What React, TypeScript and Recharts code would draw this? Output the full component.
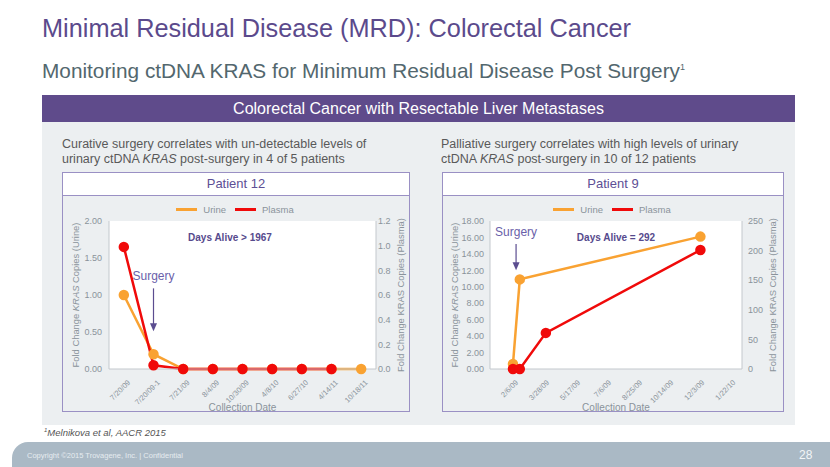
import React from 'react';
import {
  LineChart,
  Line,
  XAxis,
  YAxis,
  CartesianGrid,
  Legend,
  ReferenceLine,
} from 'recharts';

const URINE = '#F9A232';
const PLASMA = '#F00A0A';
const PURPLE = '#5B4D90';
const AXIS_TEXT = '#8A939B';
const AXIS_LINE = '#C3C8CD';
const PANEL = '#ECEFF1';
const FONT = '"Liberation Sans", Arial, sans-serif';

// Patient 12: categorical collection dates
const p12Dates = ['7/20/09', '7/20/09-1', '7/21/09', '8/4/09', '10/30/09', '4/8/10', '6/27/10', '4/14/11', '10/18/11'];
const p12Urine = [1.0, 0.2, 0, 0, 0, 0, 0, 0, 0];
const p12Plasma = [0.99, 0.03, 0, 0, 0, 0, 0, 0, null];
const p12LeftTicks = [0, 0.5, 1, 1.5, 2];
const p12RightTicks = [0, 0.2, 0.4, 0.6, 0.8, 1.0, 1.2];

// Patient 9: date axis
const p9Dates = ['2/8/09', '2/19/09', '4/2/09', '12/7/09'];
const p9Urine = [0.6, 10.9, null, 16.1];
const p9Plasma = [0, 0, 61, 201];
const p9TickDates = ['2/6/09', '3/28/09', '5/17/09', '7/6/09', '8/25/09', '10/14/09', '12/3/09', '1/22/10'];
const p9Domain = ['1/2/09', '2/12/10'];
const p9LeftTicks = [0, 2, 4, 6, 8, 10, 12, 14, 16, 18];
const p9RightTicks = [0, 50, 100, 150, 200, 250];

const toTs = (s: string) => {
  const [m, d, y] = s.split('/').map(Number);
  return Date.UTC(2000 + y, m - 1, d);
};
const fmtTs = (t: number) => {
  const d = new Date(t);
  const yy = String(d.getUTCFullYear() % 100).padStart(2, '0');
  return `${d.getUTCMonth() + 1}/${d.getUTCDate()}/${yy}`;
};

const p12Data = p12Dates.map((date, i) => ({ date, urine: p12Urine[i], plasma: p12Plasma[i] }));
const p9Data = p9Dates.map((date, i) => ({ t: toTs(date), urine: p9Urine[i], plasma: p9Plasma[i] }));

const tickStyle = { fill: AXIS_TEXT, fontSize: 9, fontFamily: FONT };

const RotatedTick = (props: any) => {
  const { x, y, payload, formatter } = props;
  const label = formatter ? formatter(payload.value) : payload.value;
  return (
    <text
      x={x + 3}
      y={y + 2}
      transform={`rotate(-45, ${x + 3}, ${y + 2})`}
      textAnchor="end"
      dominantBaseline="hanging"
      fill={AXIS_TEXT}
      fontSize={7.5}
      fontFamily={FONT}
    >
      {label}
    </text>
  );
};

const axisTitle = (which: 'Urine' | 'Plasma', dx: number) => (props: any) => {
  const { viewBox } = props;
  const cx = viewBox.x + dx;
  const cy = viewBox.y + viewBox.height / 2;
  return (
    <text
      x={cx}
      y={cy}
      transform={`rotate(-90, ${cx}, ${cy})`}
      textAnchor="middle"
      dominantBaseline="central"
      fill={AXIS_TEXT}
      fontSize={9.4}
      fontFamily={FONT}
    >
      <tspan>Fold Change </tspan>
      <tspan fontStyle={which === 'Urine' ? 'italic' : 'normal'}>KRAS</tspan>
      <tspan> Copies ({which})</tspan>
    </text>
  );
};

const SurgeryArrow = (props: any) => {
  const { x1, y1, x2, y2 } = props;
  return (
    <g>
      <text x={x1} y={y1 - 12} textAnchor="middle" dominantBaseline="central" fill="#6A5FAA" fontSize={12} fontFamily={FONT}>
        Surgery
      </text>
      <line x1={x1} y1={y1} x2={x2} y2={y2 - 6} stroke={PURPLE} strokeWidth={1.2} />
      <polygon points={`${x2 - 3.5},${y2 - 8} ${x2 + 3.5},${y2 - 8} ${x2},${y2}`} fill={PURPLE} />
    </g>
  );
};

const LegendBox = () => (
  <div style={{ display: 'flex', justifyContent: 'center', alignItems: 'center', height: 16, fontFamily: FONT, fontSize: 9.5, color: AXIS_TEXT }}>
    <span style={{ display: 'inline-block', width: 21, height: 3, background: URINE, marginRight: 6 }} />
    <span style={{ marginRight: 9 }}>Urine</span>
    <span style={{ display: 'inline-block', width: 21, height: 3, background: PLASMA, marginRight: 6 }} />
    <span>Plasma</span>
  </div>
);

const Patient12Chart = () => (
  <LineChart width={347} height={218} data={p12Data} margin={{ top: 6, right: 0, bottom: 0, left: 0 }}>
    <CartesianGrid fill="#FFFFFF" horizontal={false} vertical={false} />
    <Legend verticalAlign="top" content={<LegendBox />} wrapperStyle={{ paddingBottom: 4 }} />
    <XAxis
      dataKey="date"
      scale="band"
      height={44}
      tickLine={false}
      axisLine={{ stroke: AXIS_LINE }}
      interval={0}
      tick={<RotatedTick />}
      label={{ value: 'Collection Date', position: 'insideBottom', offset: 2, fill: AXIS_TEXT, fontSize: 10, fontFamily: FONT }}
    />
    <YAxis
      yAxisId="left"
      width={47}
      domain={[0, 2]}
      ticks={p12LeftTicks}
      tickFormatter={(v: number) => v.toFixed(2)}
      tick={tickStyle}
      tickLine={false}
      tickSize={0}
      tickMargin={7}
      axisLine={{ stroke: AXIS_LINE }}
      label={{ content: axisTitle('Urine', 13) }}
    />
    <YAxis
      yAxisId="right"
      orientation="right"
      width={33}
      domain={[0, 1.2]}
      ticks={p12RightTicks}
      tickFormatter={(v: number) => v.toFixed(1)}
      tick={tickStyle}
      tickLine={false}
      tickSize={0}
      tickMargin={2}
      axisLine={{ stroke: AXIS_LINE }}
      label={{ content: axisTitle('Plasma', 24) }}
    />
    <ReferenceLine
      yAxisId="left"
      segment={[{ x: '7/20/09-1', y: 1.09 }, { x: '7/20/09-1', y: 0.51 }]}
      shape={<SurgeryArrow />}
    />
    <Line yAxisId="left" dataKey="urine" stroke={URINE} strokeWidth={2.5} dot={{ r: 4, fill: URINE, stroke: URINE }} isAnimationActive={false} />
    <Line yAxisId="right" dataKey="plasma" stroke={PLASMA} strokeWidth={2.5} dot={{ r: 4, fill: PLASMA, stroke: PLASMA }} isAnimationActive={false} />
  </LineChart>
);

const Patient9Chart = () => (
  <LineChart width={341} height={218} data={p9Data} margin={{ top: 6, right: 0, bottom: 0, left: 0 }}>
    <CartesianGrid fill="#FFFFFF" horizontal={false} vertical={false} />
    <Legend verticalAlign="top" content={<LegendBox />} wrapperStyle={{ paddingBottom: 4 }} />
    <XAxis
      dataKey="t"
      type="number"
      scale="time"
      domain={p9Domain.map(toTs)}
      ticks={p9TickDates.map(toTs)}
      height={44}
      tickLine={false}
      axisLine={{ stroke: AXIS_LINE }}
      interval={0}
      tick={<RotatedTick formatter={fmtTs} />}
      label={{ value: 'Collection Date', position: 'insideBottom', offset: 2, fill: AXIS_TEXT, fontSize: 10, fontFamily: FONT }}
    />
    <YAxis
      yAxisId="left"
      width={48}
      domain={[0, 18]}
      ticks={p9LeftTicks}
      tickFormatter={(v: number) => v.toFixed(2)}
      tick={tickStyle}
      tickLine={false}
      tickSize={0}
      tickMargin={6}
      axisLine={{ stroke: AXIS_LINE }}
      label={{ content: axisTitle('Urine', 12) }}
    />
    <YAxis
      yAxisId="right"
      orientation="right"
      width={41}
      domain={[0, 250]}
      ticks={p9RightTicks}
      tick={tickStyle}
      tickLine={false}
      tickSize={0}
      tickMargin={6}
      axisLine={{ stroke: AXIS_LINE }}
      label={{ content: axisTitle('Plasma', 30) }}
    />
    <ReferenceLine
      yAxisId="left"
      segment={[{ x: toTs('2/13/09'), y: 15.2 }, { x: toTs('2/13/09'), y: 12.0 }]}
      shape={<SurgeryArrow />}
    />
    <Line yAxisId="left" dataKey="urine" connectNulls stroke={URINE} strokeWidth={2.5} dot={{ r: 4, fill: URINE, stroke: URINE }} isAnimationActive={false} />
    <Line yAxisId="right" dataKey="plasma" stroke={PLASMA} strokeWidth={2.5} dot={{ r: 4, fill: PLASMA, stroke: PLASMA }} isAnimationActive={false} />
  </LineChart>
);

const abs = (left: number, top: number, extra: React.CSSProperties = {}): React.CSSProperties => ({
  position: 'absolute',
  left,
  top,
  ...extra,
});

const ChartBox = ({ left, width, title, children }: { left: number; width: number; title: string; children: React.ReactNode }) => (
  <div style={abs(left, 172, { width, height: 240, boxSizing: 'border-box', border: '1.5px solid #9A90C4', background: PANEL })}>
    <div
      style={{
        height: 22,
        background: '#FFFFFF',
        borderBottom: '1.5px solid #9A90C4',
        color: '#5D4F95',
        fontSize: 13,
        textAlign: 'center',
        lineHeight: '22px',
      }}
    >
      {title}
    </div>
    <div style={{ position: 'absolute', left: -1.5, top: 22 }}>{children}</div>
  </div>
);

export default function App() {
  return (
    <div style={{ position: 'absolute', left: 0, top: 0, width: 830, height: 467, background: '#FFFFFF', overflow: 'hidden', fontFamily: FONT }}>
      <div style={abs(42, 14, { fontSize: 25.3, color: '#5B4A8C', whiteSpace: 'nowrap' })}>
        Minimal Residual Disease (MRD): Colorectal Cancer
      </div>
      <div style={abs(42, 59, { fontSize: 20.8, color: '#53676E', whiteSpace: 'nowrap' })}>
        Monitoring ctDNA KRAS for Minimum Residual Disease Post Surgery
        <sup style={{ fontSize: 9 }}>1</sup>
      </div>

      <div style={abs(42, 95, { width: 753, height: 27, background: '#5F4B8B', color: '#FFFFFF', fontSize: 16, textAlign: 'center', lineHeight: '27px' })}>
        Colorectal Cancer with Resectable Liver Metastases
      </div>
      <div style={abs(42, 122, { width: 753, height: 303, background: PANEL })} />

      <div style={abs(62, 137, { fontSize: 12.5, color: '#595959', lineHeight: '15px', whiteSpace: 'nowrap' })}>
        Curative surgery correlates with un-detectable levels of
        <br />
        urinary ctDNA <i>KRAS</i> post-surgery in 4 of 5 patients
      </div>
      <div style={abs(441, 137, { fontSize: 12.5, color: '#595959', lineHeight: '15px', whiteSpace: 'nowrap' })}>
        Palliative surgery correlates with high levels of urinary
        <br />
        ctDNA <i>KRAS</i> post-surgery in 10 of 12 patients
      </div>

      <ChartBox left={62} width={348} title="Patient 12">
        <Patient12Chart />
      </ChartBox>
      <ChartBox left={442} width={342} title="Patient 9">
        <Patient9Chart />
      </ChartBox>

      <div style={abs(180, 232, { width: 100, textAlign: 'center', fontSize: 10, fontWeight: 'bold', color: '#564A8D' })}>
        Days Alive &gt; 1967
      </div>
      <div style={abs(566, 232, { width: 100, textAlign: 'center', fontSize: 10, fontWeight: 'bold', color: '#564A8D' })}>
        Days Alive = 292
      </div>

      <div style={abs(44, 427, { fontSize: 9.5, fontStyle: 'italic', color: '#555555', whiteSpace: 'nowrap' })}>
        <sup style={{ fontSize: 6 }}>1</sup>Melnikova et al, AACR 2015
      </div>

      <div style={abs(12, 442, { width: 830, height: 40, background: '#AAB9C5', borderTopLeftRadius: 16 })} />
      <div style={abs(27, 451, { fontSize: 7.5, color: '#E6ECF0', whiteSpace: 'nowrap' })}>
        Copyright ©2015 Trovagene, Inc. | Confidential
      </div>
      <div style={abs(799, 448, { fontSize: 12, color: '#F2F5F7' })}>28</div>
    </div>
  );
}
